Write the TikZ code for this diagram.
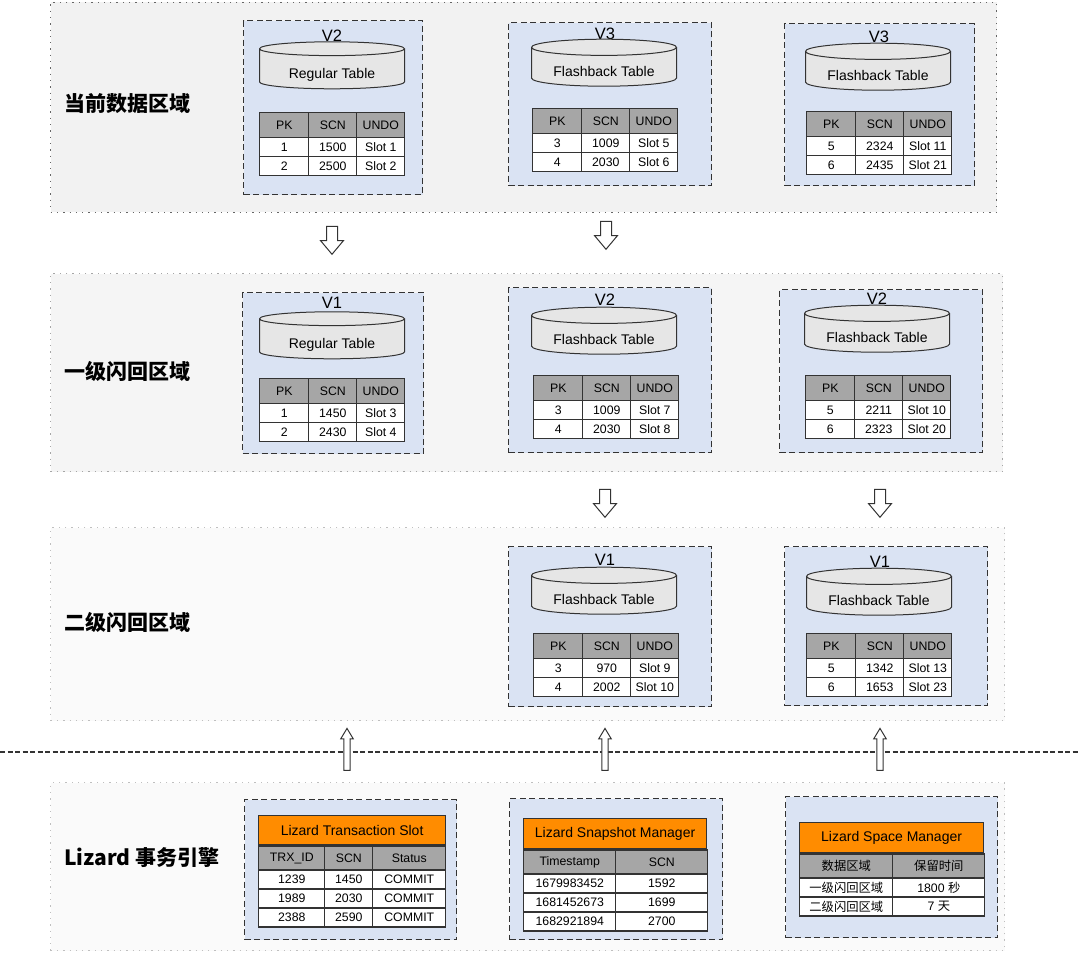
\documentclass[tikz,border=0pt]{standalone}
\usepackage{fontspec}
\setmainfont{Liberation Sans}
\newfontfamily\cjk{Noto Sans CJK SC}
\usepackage{tikz}
\usetikzlibrary{positioning,shapes.geometric,shapes.arrows,matrix}
\definecolor{verblue}{RGB}{218,227,243}
\definecolor{hdrgray}{RGB}{166,166,166}
\definecolor{cylgray}{RGB}{230,230,230}
\definecolor{lineblack}{RGB}{51,51,51}
\definecolor{slotorange}{RGB}{255,140,0}
\newcommand\cellfont{\fontsize{12.3}{14}\selectfont}

\begin{document}
\begin{tikzpicture}[x=1pt,y=-1pt,
  zone/.style 2 args={draw=#1,line width=1.3pt,dash pattern=on 1.3pt off 5pt,fill=#2,anchor=north west,inner sep=0pt},
  zonelabel/.style={anchor=west,inner sep=0pt,font=\fontsize{21}{23}\selectfont\bfseries\cjk},
  verbox/.style={draw=lineblack,line width=1.4pt,dash pattern=on 6pt off 3.5pt,fill=verblue,anchor=north west,inner sep=0pt},
  vlabel/.style={inner sep=0pt,font=\fontsize{16.5}{18}\selectfont},
  cyl/.style={cylinder,shape border rotate=90,aspect=0.16,draw=lineblack,line width=1pt,fill=cylgray,minimum width=145pt,minimum height=47pt,inner sep=0pt,text height=20pt,text depth=2pt,font=\fontsize{14}{16}\selectfont},
  tbl/.style={matrix of nodes,anchor=north west,inner sep=0pt,row sep=-1.2pt,column sep=-1.2pt,
    nodes={draw=lineblack,line width=1.2pt,fill=white,minimum height=19pt,inner sep=0pt,font=\cellfont,anchor=center},
    row 1/.style={nodes={fill=hdrgray,minimum height=25pt}},
    column 1/.style={nodes={minimum width=49pt}},
    column 2/.style={nodes={minimum width=48pt}},
    column 3/.style={nodes={minimum width=48pt}}},
  orangehdr/.style={draw=lineblack,line width=1.2pt,fill=slotorange,anchor=north west,inner sep=0pt,minimum height=30pt,font=\fontsize{14}{16}\selectfont},
  downarr/.style={single arrow,draw=lineblack,fill=white,line width=1pt,minimum height=28pt,inner xsep=0pt,inner ysep=5pt,single arrow head extend=6pt,single arrow tip angle=80,rotate=-90},
  uparr/.style={single arrow,draw=lineblack,fill=white,line width=1pt,minimum height=42pt,inner xsep=0pt,inner ysep=2.6pt,single arrow head extend=3.2pt,single arrow tip angle=62,rotate=90},
  cut/.style={draw=lineblack,line width=1.8pt,dash pattern=on 5pt off 2.5pt}
]
  \useasboundingbox (0,0) rectangle (1080,953);

  \node[zone={black!60}{black!5}, minimum width=946pt, minimum height=210pt] (cur) at (50,1.5) {};
  \node[zone={black!35}{black!4}, minimum width=952pt, minimum height=198pt] (lvl1) at (50,273) {};
  \node[zone={black!25}{black!2}, minimum width=954pt, minimum height=193pt] (lvl2) at (50,527) {};
  \node[zone={black!25}{black!2}, minimum width=954pt, minimum height=168pt] (eng) at (50,782) {};

  \node[zonelabel] (curlbl) at (64,104) {当前数据区域};
  \node[zonelabel] (lvl1lbl) at (64,371) {一级闪回区域};
  \node[zonelabel] (lvl2lbl) at (64,622) {二级闪回区域};
  \node[zonelabel] (englbl) at (64,858) {Lizard {\cjk 事务引擎}};

  \node[verbox, minimum width=179pt, minimum height=174pt] (curA) at (243,20) {};
  \node[verbox, minimum width=203pt, minimum height=163pt] (curB) at (508,22) {};
  \node[verbox, minimum width=190pt, minimum height=162pt] (curC) at (784,23) {};
  \node[verbox, minimum width=181pt, minimum height=161pt] (oneA) at (242,292) {};
  \node[verbox, minimum width=203pt, minimum height=165pt] (oneB) at (508,287) {};
  \node[verbox, minimum width=203pt, minimum height=163pt] (oneC) at (779,289) {};
  \node[verbox, minimum width=203pt, minimum height=160pt] (twoB) at (508,546) {};
  \node[verbox, minimum width=203pt, minimum height=159pt] (twoC) at (784,546) {};
  \node[verbox, minimum width=212pt, minimum height=140pt] (engA) at (244,799) {};
  \node[verbox, minimum width=213pt, minimum height=141pt] (engB) at (509,798) {};
  \node[verbox, minimum width=212pt, minimum height=141pt] (engC) at (785,796) {};

  \node[vlabel] (curAv) at (332,36) {V2};
  \node[vlabel] (curBv) at (605,34) {V3};
  \node[vlabel] (curCv) at (879,37) {V3};
  \node[vlabel] (oneAv) at (332,303) {V1};
  \node[vlabel] (oneBv) at (605,300) {V2};
  \node[vlabel] (oneCv) at (877,299) {V2};
  \node[vlabel] (twoBv) at (605,560) {V1};
  \node[vlabel] (twoCv) at (880,562) {V1};

  \node[cyl] (curAc) at (332,69) {Regular Table};
  \node[cyl] (curBc) at (604,67) {Flashback Table};
  \node[cyl] (curCc) at (878,71) {Flashback Table};
  \node[cyl] (oneAc) at (332,339) {Regular Table};
  \node[cyl] (oneBc) at (604,335) {Flashback Table};
  \node[cyl] (oneCc) at (877,333) {Flashback Table};
  \node[cyl] (twoBc) at (604,595) {Flashback Table};
  \node[cyl] (twoCc) at (879,596) {Flashback Table};

  \matrix[tbl] (curAt) at (259,112) {
    PK & SCN & UNDO \\
    1 & 1500 & Slot 1 \\
    2 & 2500 & Slot 2 \\
  };
  \matrix[tbl] (curBt) at (532,108) {
    PK & SCN & UNDO \\
    3 & 1009 & Slot 5 \\
    4 & 2030 & Slot 6 \\
  };
  \matrix[tbl] (curCt) at (806,111) {
    PK & SCN & UNDO \\
    5 & 2324 & Slot 11 \\
    6 & 2435 & Slot 21 \\
  };
  \matrix[tbl] (oneAt) at (259,378) {
    PK & SCN & UNDO \\
    1 & 1450 & Slot 3 \\
    2 & 2430 & Slot 4 \\
  };
  \matrix[tbl] (oneBt) at (533,375) {
    PK & SCN & UNDO \\
    3 & 1009 & Slot 7 \\
    4 & 2030 & Slot 8 \\
  };
  \matrix[tbl] (oneCt) at (805,375) {
    PK & SCN & UNDO \\
    5 & 2211 & Slot 10 \\
    6 & 2323 & Slot 20 \\
  };
  \matrix[tbl] (twoBt) at (533,633) {
    PK & SCN & UNDO \\
    3 & 970 & Slot 9 \\
    4 & 2002 & Slot 10 \\
  };
  \matrix[tbl] (twoCt) at (806,633) {
    PK & SCN & UNDO \\
    5 & 1342 & Slot 13 \\
    6 & 1653 & Slot 23 \\
  };

  \node[orangehdr, minimum width=187pt, minimum height=29pt] (slot) at (258,815) {Lizard Transaction Slot};
  \matrix[tbl, row 1/.style={nodes={fill=hdrgray,minimum height=24pt}},
    column 1/.style={nodes={minimum width=66pt}},
    column 2/.style={nodes={minimum width=48pt}},
    column 3/.style={nodes={minimum width=73pt}}] (slott) at (slot.south west) {
    TRX\_ID & SCN & Status \\
    1239 & 1450 & COMMIT \\
    1989 & 2030 & COMMIT \\
    2388 & 2590 & COMMIT \\
  };

  \node[orangehdr, minimum width=183pt] (snap) at (523,818) {Lizard Snapshot Manager};
  \matrix[tbl, row 1/.style={nodes={fill=hdrgray,minimum height=24pt}},
    column 1/.style={nodes={minimum width=92pt}},
    column 2/.style={nodes={minimum width=92pt}}] (snapt) at (snap.south west) {
    Timestamp & SCN \\
    1679983452 & 1592 \\
    1681452673 & 1699 \\
    1682921894 & 2700 \\
  };

  \node[orangehdr, minimum width=184pt] (space) at (799,822) {Lizard Space Manager};
  \matrix[tbl, row 1/.style={nodes={fill=hdrgray,minimum height=24pt,font=\cellfont\cjk}},
    column 1/.style={nodes={minimum width=93pt}},
    column 2/.style={nodes={minimum width=92pt}}] (spacet) at (space.south west) {
    数据区域 & 保留时间 \\
    {\cjk 一级闪回区域} & 1800 {\cjk 秒} \\
    {\cjk 二级闪回区域} & 7 {\cjk 天} \\
  };

  \coordinate (cutL) at (0,752);
  \coordinate (cutR) at (1080,752);
  \draw[cut] (cutL) -- (cutR);

  \node[downarr] (dn1) at (332,237) {};
  \node[downarr] (dn2) at (606,232) {};
  \node[downarr] (dn3) at (605,500) {};
  \node[downarr] (dn4) at (880,500) {};
  \node[uparr] (up1) at (347,752) {};
  \node[uparr] (up2) at (605,752) {};
  \node[uparr] (up3) at (880,752) {};
\end{tikzpicture}
\end{document}
